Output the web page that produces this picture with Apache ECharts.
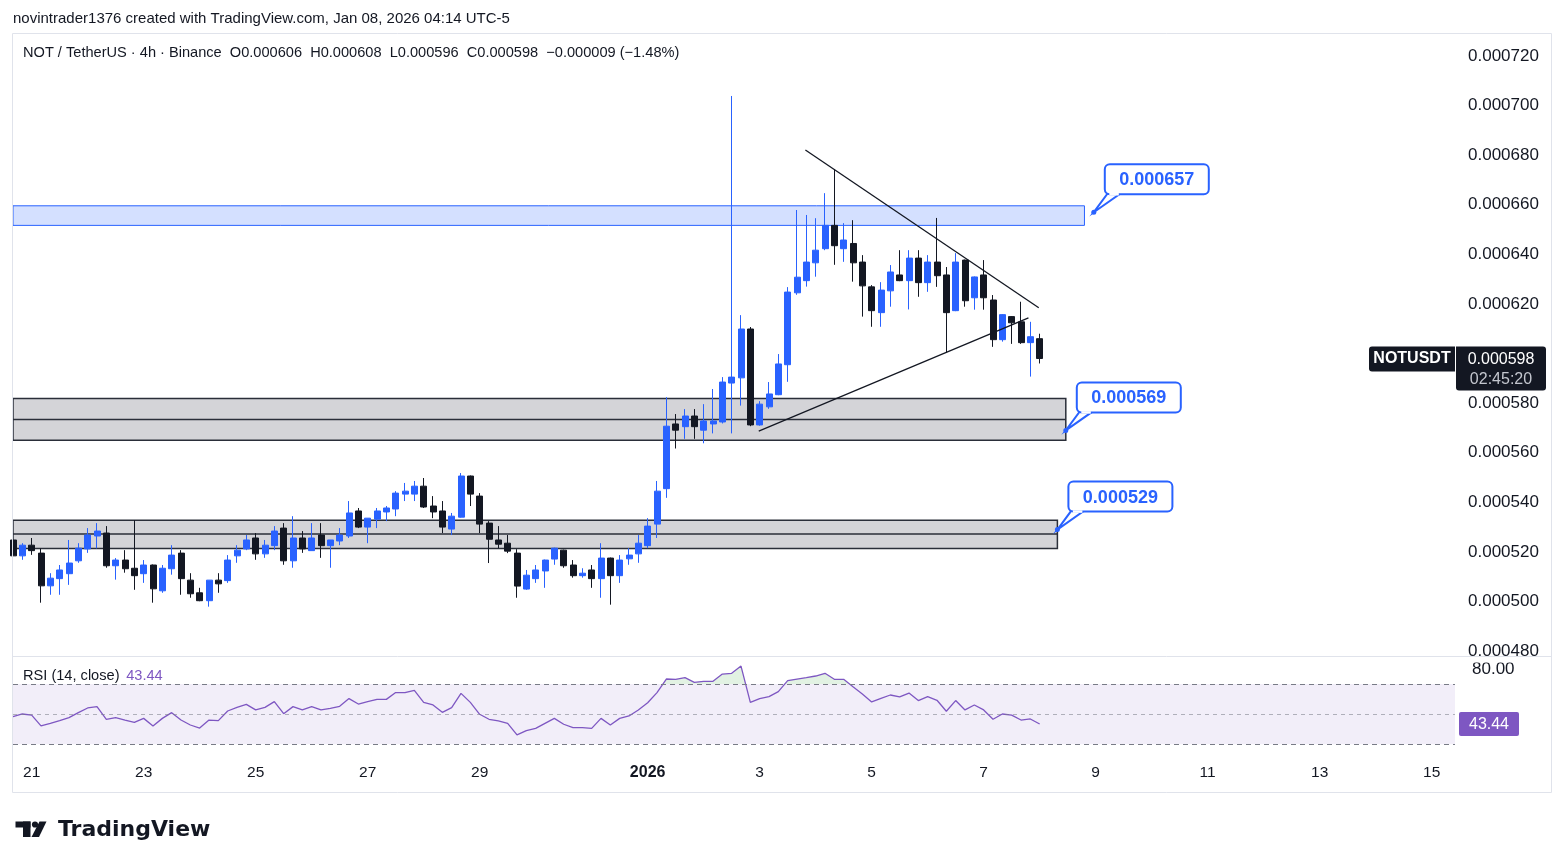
<!DOCTYPE html>
<html>
<head>
<meta charset="utf-8">
<script src="https://cdn.jsdelivr.net/npm/echarts@6/dist/echarts.min.js"></script>
<style>
html,body{margin:0;padding:0;background:#ffffff;}
#c{width:1564px;height:868px;}
</style>
</head>
<body>
<div id="c"></div>
<script>
// ---- data (4h candles, NOT/USDT, Dec 20 2025 -> Jan 8 2026) ----
const opens = [0.0005248,0.0005184,0.0005227,0.0005195,0.0005063,0.0005092,0.0005112,0.0005164,0.0005212,0.0005264,
0.0005276,0.0005144,0.0005167,0.0005134,0.0005112,0.0005147,0.0005043,0.0005132,0.0005195,0.0005086,
0.0005035,0.0005003,0.0005086,0.0005084,0.0005184,0.0005212,0.0005256,0.0005192,0.0005225,0.0005296,
0.0005164,0.0005256,0.0005205,0.0005268,0.0005225,0.0005244,0.0005264,0.0005365,0.0005300,0.0005332,
0.0005361,0.0005373,0.0005433,0.0005433,0.0005465,0.0005385,0.0005365,0.0005292,0.0005340,0.0005506,
0.0005425,0.0005316,0.0005248,0.0005235,0.0005195,0.0005050,0.0005092,0.0005123,0.0005171,0.0005207,
0.0005147,0.0005104,0.0005127,0.0005092,0.0005175,0.0005104,0.0005172,0.0005192,0.0005225,0.0005312,
0.0005455,0.0005716,0.0005705,0.0005748,0.0005691,0.0005716,0.0005724,0.0005881,0.0005902,0.0006099,
0.0005712,0.0005785,0.0005834,0.0005955,0.0006245,0.0006294,0.0006366,0.0006423,0.0006517,0.0006423,
0.0006444,0.0006369,0.0006269,0.0006165,0.0006253,0.0006317,0.0006294,0.0006385,0.0006286,0.0006369,
0.0006317,0.0006173,0.0006377,0.0006225,0.0006317,0.0006216,0.0006056,0.0006149,0.0006128,0.0006044,
0.0006060];
const highs = [0.0005252,0.0005235,0.0005256,0.0005214,0.0005114,0.0005147,0.0005248,0.0005235,0.0005296,0.0005316,
0.0005304,0.0005175,0.0005207,0.0005328,0.0005167,0.0005149,0.0005147,0.0005227,0.0005207,0.0005114,
0.0005055,0.0005086,0.0005114,0.0005187,0.0005227,0.0005268,0.0005276,0.0005248,0.0005304,0.0005316,
0.0005344,0.0005284,0.0005316,0.0005316,0.0005248,0.0005296,0.0005405,0.0005377,0.0005336,0.0005377,
0.0005385,0.0005445,0.0005478,0.0005486,0.0005498,0.0005425,0.0005405,0.0005357,0.0005518,0.0005508,
0.0005437,0.0005324,0.0005304,0.0005268,0.0005211,0.0005127,0.0005147,0.0005169,0.0005217,0.0005209,
0.0005167,0.0005134,0.0005147,0.0005235,0.0005177,0.0005187,0.0005215,0.0005268,0.0005336,0.0005486,
0.0005824,0.0005756,0.0005776,0.0005776,0.0005796,0.0005857,0.0005905,0.0007039,0.0006155,0.0006107,
0.0005808,0.0005885,0.0005998,0.0006268,0.0006579,0.0006559,0.0006546,0.0006647,0.0006744,0.0006526,
0.0006538,0.0006397,0.0006276,0.0006288,0.0006357,0.0006417,0.0006417,0.0006417,0.0006397,0.0006547,
0.0006349,0.0006405,0.0006379,0.0006311,0.0006377,0.0006236,0.0006159,0.0006151,0.0006209,0.0006128,
0.0006080];
const lows = [0.0005180,0.0005168,0.0005188,0.0004995,0.0005027,0.0005027,0.0005067,0.0005156,0.0005196,0.0005214,
0.0005136,0.0005088,0.0005116,0.0005047,0.0005075,0.0004995,0.0005035,0.0005108,0.0005027,0.0005015,
0.0005001,0.0004979,0.0005035,0.0005075,0.0005156,0.0005207,0.0005168,0.0005176,0.0005207,0.0005148,
0.0005136,0.0005196,0.0005205,0.0005176,0.0005136,0.0005227,0.0005256,0.0005296,0.0005235,0.0005296,
0.0005324,0.0005344,0.0005405,0.0005405,0.0005377,0.0005336,0.0005276,0.0005268,0.0005338,0.0005385,
0.0005276,0.0005155,0.0005215,0.0005195,0.0005015,0.0005047,0.0005075,0.0005055,0.0005148,0.0005136,
0.0005096,0.0005096,0.0005055,0.0005015,0.0004987,0.0005075,0.0005148,0.0005156,0.0005215,0.0005256,
0.0005418,0.0005617,0.0005656,0.0005656,0.0005638,0.0005678,0.0005718,0.0005678,0.0005790,0.0005707,
0.0005709,0.0005777,0.0005832,0.0005886,0.0006237,0.0006270,0.0006310,0.0006417,0.0006358,0.0006370,
0.0006290,0.0006149,0.0006108,0.0006108,0.0006189,0.0006292,0.0006178,0.0006229,0.0006249,0.0006269,
0.0006003,0.0006171,0.0006189,0.0006177,0.0006177,0.0006027,0.0006048,0.0006039,0.0006039,0.0005907,
0.0005960];
const closes = [0.0005184,0.0005227,0.0005205,0.0005063,0.0005094,0.0005127,0.0005155,0.0005215,0.0005268,0.0005284,
0.0005144,0.0005167,0.0005132,0.0005104,0.0005147,0.0005051,0.0005134,0.0005187,0.0005092,0.0005031,
0.0005003,0.0005086,0.0005071,0.0005167,0.0005207,0.0005248,0.0005192,0.0005227,0.0005284,0.0005164,
0.0005256,0.0005212,0.0005256,0.0005225,0.0005248,0.0005268,0.0005357,0.0005300,0.0005336,0.0005365,
0.0005377,0.0005437,0.0005445,0.0005465,0.0005381,0.0005361,0.0005300,0.0005344,0.0005506,0.0005433,
0.0005312,0.0005251,0.0005231,0.0005203,0.0005062,0.0005106,0.0005127,0.0005167,0.0005215,0.0005144,
0.0005104,0.0005114,0.0005092,0.0005175,0.0005104,0.0005167,0.0005187,0.0005235,0.0005304,0.0005445,
0.0005707,0.0005691,0.0005748,0.0005705,0.0005728,0.0005728,0.0005885,0.0005905,0.0006099,0.0005712,
0.0005796,0.0005837,0.0005958,0.0006248,0.0006308,0.0006369,0.0006417,0.0006517,0.0006435,0.0006458,
0.0006366,0.0006273,0.0006173,0.0006256,0.0006329,0.0006294,0.0006385,0.0006286,0.0006369,0.0006314,
0.0006165,0.0006369,0.0006213,0.0006309,0.0006225,0.0006056,0.0006157,0.0006124,0.0006044,0.0006068,
0.0005980];
const rsiValues = [48.3,50.1,49.4,42.2,43.9,45.7,47.7,51.0,54.1,55.0,
46.6,47.7,46.1,44.6,47.2,42.2,47.2,51.0,46.1,42.8,
40.8,46.1,45.7,52.1,54.5,56.5,52.8,54.5,58.3,50.3,
55.0,52.8,55.0,52.8,53.9,55.2,60.3,56.7,58.3,59.8,
59.8,64.3,64.3,65.8,57.8,56.1,51.2,54.3,63.8,57.8,
49.9,46.6,45.5,43.9,36.2,39.1,40.6,43.9,47.2,43.3,
41.0,41.0,40.6,47.2,42.8,47.2,48.8,52.8,57.6,64.3,
73.3,73.1,74.2,71.1,71.8,71.8,76.6,77.1,81.9,57.8,
60.3,61.6,64.9,72.2,73.3,74.2,75.3,77.1,73.1,73.1,
68.2,63.4,58.1,60.5,62.7,61.4,64.0,59.0,61.6,59.2,
51.9,59.0,52.8,56.1,52.8,46.6,50.1,49.4,46.1,46.8,
43.44];

// time axis: candle index (0 = Dec 20 16:00), labels at day starts
const dayTickIdx = [2,14,26,38,50,68,80,92,104,116,128,140,152];
const dayTickLabels = ['21','23','25','27','29','2026','3','5','7','9','11','13','15'];
const priceTickValues = [0.00072,0.0007,0.00068,0.00066,0.00064,0.00062,0.00058,0.00056,0.00054,0.00052,0.0005,0.00048];
const rsiTickValues = [80];
const rsiLevels = [70,50,30];

// drawings (candle index, price)
const zoneEnd = [114.8, 112.8, 111.9];
const zoneLow = [0.0006517, 0.0005650, 0.0005214];
const zoneHigh = [0.0006596, 0.0005819, 0.0005328];
const zoneMid = [null, 0.0005734, 0.0005272];
const calloutIdx = [115.8, 112.8, 111.9];
const calloutPrice = [0.000657, 0.000569, 0.000529];
const trendUpper = [[84.9, 0.0006821], [109.9, 0.0006185]];
const trendLower = [[79.9, 0.0005687], [108.8, 0.0006144]];

const FONT = '"Liberation Sans", Arial, sans-serif';
const INK = '#131722';
const BLUE = '#2962ff';
const PURPLE = '#7e57c2';
const X_MAX = 154.5;

const chart = echarts.init(document.getElementById('c'), null, {renderer: 'canvas'});

const candleData = opens.map((o, i) => [i, o, closes[i], lows[i], highs[i]]);
const rsiData = rsiValues.map((v, i) => [i, v]);
const zoneData = zoneEnd.map((e, i) => [-5, e, zoneLow[i], zoneHigh[i], zoneMid[i] == null ? NaN : zoneMid[i]]);
const calloutData = calloutIdx.map((x, i) => [x, calloutPrice[i]]);

function clipRect(r, cs) {
  return echarts.graphic.clipRectByRect(r, {x: cs.x, y: cs.y, width: cs.width, height: cs.height});
}

const option = {
  animation: false,
  backgroundColor: '#ffffff',
  textStyle: {fontFamily: FONT},
  grid: [
    {left: 13, right: 109, top: 34, height: 622, containLabel: false, outerBoundsMode: 'none'},
    {left: 13, right: 109, top: 656, height: 100, containLabel: false, outerBoundsMode: 'none'}
  ],
  xAxis: [
    {type: 'value', gridIndex: 0, min: 0, max: X_MAX, show: false, splitLine: {show: false}},
    {type: 'value', gridIndex: 1, min: 0, max: X_MAX,
      axisLine: {show: false}, axisTick: {show: false}, splitLine: {show: false},
      axisLabel: {
        customValues: dayTickIdx, margin: 9, color: INK, fontSize: 15.5, fontFamily: FONT,
        formatter: v => {
          const k = dayTickIdx.indexOf(v);
          if (k < 0) return '';
          const t = dayTickLabels[k];
          return t === '2026' ? '{b|' + t + '}' : t;
        },
        rich: {b: {fontWeight: 'bold', fontSize: 16, color: INK, fontFamily: FONT}}
      }
    }
  ],
  yAxis: [
    {type: 'value', gridIndex: 0, position: 'right', min: 0.000478, max: 0.0007289,
      axisLine: {show: false}, axisTick: {show: false}, splitLine: {show: false},
      axisLabel: {customValues: priceTickValues, align: 'left', margin: 13, color: INK, fontSize: 17, fontFamily: FONT,
        formatter: v => v.toFixed(6)}
    },
    {type: 'value', gridIndex: 1, position: 'right', min: 22.24, max: 88.57,
      axisLine: {show: false}, axisTick: {show: false}, splitLine: {show: false},
      axisLabel: {customValues: rsiTickValues, align: 'left', margin: 17, color: INK, fontSize: 17, fontFamily: FONT,
        formatter: v => v.toFixed(2)}
    }
  ],
  series: [
    {
      type: 'custom', name: 'zones', xAxisIndex: 0, yAxisIndex: 0, z: 1, silent: true,
      data: zoneData,
      renderItem: (params, api) => {
        const cs = params.coordSys;
        const s = api.value(0), e = api.value(1), lo = api.value(2), hi = api.value(3), mid = api.value(4);
        const p1 = api.coord([s, hi]), p2 = api.coord([e, lo]);
        const r = clipRect({x: p1[0], y: p1[1], width: p2[0] - p1[0], height: p2[1] - p1[1]}, cs);
        const isBlue = params.dataIndex === 0;
        const children = [{
          type: 'rect', shape: r,
          style: isBlue ? {fill: 'rgba(41,98,255,0.2)', stroke: BLUE, lineWidth: 1}
                        : {fill: '#d4d4d8', stroke: '#2a2e39', lineWidth: 1.5}
        }];
        if (!isNaN(mid)) {
          const pm = api.coord([e, mid]);
          children.push({type: 'line', shape: {x1: r.x, y1: pm[1], x2: r.x + r.width, y2: pm[1]},
            style: {stroke: '#2a2e39', lineWidth: 1.5}});
        }
        return {type: 'group', children};
      }
    },
    {
      type: 'candlestick', name: 'NOTUSDT', xAxisIndex: 0, yAxisIndex: 0, z: 3,
      data: candleData, encode: {x: 0, y: [1, 2, 3, 4]},
      barWidth: 6.5, clip: true,
      itemStyle: {color: BLUE, color0: INK, borderColor: BLUE, borderColor0: INK, borderWidth: 1},
      markLine: {
        silent: true, symbol: ['none', 'none'], label: {show: false},
        lineStyle: {color: INK, width: 1, type: [1, 2]},
        data: [{yAxis: closes[closes.length - 1]}]
      }
    },
    {type: 'line', name: 'trendUpper', xAxisIndex: 0, yAxisIndex: 0, z: 4, data: trendUpper,
      symbol: 'none', silent: true, lineStyle: {color: INK, width: 1.3}},
    {type: 'line', name: 'trendLower', xAxisIndex: 0, yAxisIndex: 0, z: 4, data: trendLower,
      symbol: 'none', silent: true, lineStyle: {color: INK, width: 1.3}},
    {
      type: 'custom', name: 'callouts', xAxisIndex: 0, yAxisIndex: 0, z: 6, silent: true,
      data: calloutData,
      renderItem: (params, api) => {
        const pt = api.coord([api.value(0), api.value(1)]);
        const x = pt[0], y = pt[1];
        const bw = 104, bh = 30, bx = x + 11, by = y - 18 - bh;
        return {type: 'group', children: [
          {type: 'polygon', shape: {points: [[x + 14, y - 19], [x + 27, y - 19], [x, y]]},
            style: {fill: '#ffffff', stroke: BLUE, lineWidth: 2}},
          {type: 'rect', shape: {x: bx, y: by, width: bw, height: bh, r: 5},
            style: {fill: '#ffffff', stroke: BLUE, lineWidth: 2}},
          {type: 'line', shape: {x1: x + 15.5, y1: by + bh, x2: x + 25, y2: by + bh},
            style: {stroke: '#ffffff', lineWidth: 2.5}},
          {type: 'text', style: {text: api.value(1).toFixed(6), x: bx + bw / 2, y: by + bh / 2 + 1,
            align: 'center', verticalAlign: 'middle', font: 'bold 18px ' + FONT, fill: BLUE}},
          {type: 'circle', shape: {cx: x, cy: y, r: 2.5}, style: {fill: BLUE}}
        ]};
      }
    },
    {
      type: 'custom', name: 'rsiOverbought', xAxisIndex: 1, yAxisIndex: 1, z: 2, silent: true,
      data: rsiData,
      renderItem: (params, api) => {
        const i = params.dataIndex;
        const a = rsiValues[i], b = rsiValues[i + 1];
        if (b === undefined || (a <= 70 && b <= 70)) return;
        let x0 = i, x1 = i + 1, y0 = a, y1 = b;
        if (a < 70) { x0 = i + (70 - a) / (b - a); y0 = 70; }
        if (b < 70) { x1 = i + (a - 70) / (a - b); y1 = 70; }
        return {type: 'polygon', shape: {points: [api.coord([x0, 70]), api.coord([x0, y0]), api.coord([x1, y1]), api.coord([x1, 70])]},
          style: {fill: 'rgba(76,175,80,0.16)'}};
      }
    },
    {
      type: 'line', name: 'RSI', xAxisIndex: 1, yAxisIndex: 1, z: 3, data: rsiData,
      symbol: 'none', silent: true, lineStyle: {color: PURPLE, width: 1.3},
      markArea: {silent: true, itemStyle: {color: 'rgba(126,87,194,0.1)'}, data: [[{yAxis: 70}, {yAxis: 30}]]},
      markLine: {
        silent: true, symbol: ['none', 'none'], label: {show: false},
        data: rsiLevels.map(v => ({yAxis: v, lineStyle: v === 50
          ? {color: 'rgba(120,123,134,0.55)', type: [4, 4], width: 1}
          : {color: '#787b86', type: [5, 4], width: 1}}))
      }
    }
  ]
};
chart.setOption(option);

// overlay texts, tags, frame
const lastClose = closes[closes.length - 1];
const lastRsi = rsiValues[rsiValues.length - 1];
const py = chart.convertToPixel({yAxisIndex: 0}, lastClose);
const ry = chart.convertToPixel({yAxisIndex: 1}, lastRsi);

chart.setOption({
  graphic: [
    {type: 'rect', z: 100, shape: {x: 1456, y: 656.5, width: 94, height: 6}, style: {fill: '#ffffff'}},
    {type: 'rect', z: 100, shape: {x: 12.5, y: 33.5, width: 1539, height: 759}, style: {fill: 'none', stroke: '#e0e3eb', lineWidth: 1}},
    {type: 'line', z: 100, shape: {x1: 13, y1: 656.5, x2: 1551, y2: 656.5}, style: {stroke: '#e0e3eb', lineWidth: 1}},
    {type: 'text', z: 100, x: 13, y: 19, style: {text: 'novintrader1376 created with TradingView.com, Jan 08, 2026 04:14 UTC-5',
      font: '15px ' + FONT, fill: INK, verticalAlign: 'middle'}},
    {type: 'text', z: 100, x: 23, y: 53, style: {
      text: 'NOT / TetherUS · 4h · Binance  O0.000606  H0.000608  L0.000596  C0.000598  \u22120.000009 (\u22121.48%)',
      font: '14.6px ' + FONT, fill: INK, verticalAlign: 'middle'}},
    {type: 'text', z: 100, x: 23, y: 676, style: {
      text: '{a|RSI (14, close)}  {b|' + lastRsi.toFixed(2) + '}',
      rich: {a: {fontSize: 14.6, fontFamily: FONT, fill: INK, color: INK}, b: {fontSize: 14.6, fontFamily: FONT, fill: PURPLE, color: PURPLE}},
      verticalAlign: 'middle'}},
    // symbol tag + price tag
    {type: 'rect', z: 100, shape: {x: 1369, y: py - 12, width: 86, height: 25, r: [3, 0, 0, 3]}, style: {fill: INK}},
    {type: 'text', z: 101, x: 1412, y: py + 0.5, style: {text: 'NOTUSDT', font: 'bold 16px ' + FONT, fill: '#ffffff', align: 'center', verticalAlign: 'middle'}},
    {type: 'rect', z: 100, shape: {x: 1456, y: py - 12, width: 90, height: 44, r: [0, 3, 3, 3]}, style: {fill: INK}},
    {type: 'text', z: 101, x: 1501, y: py + 1, style: {text: lastClose.toFixed(6), font: '16px ' + FONT, fill: '#ffffff', align: 'center', verticalAlign: 'middle'}},
    {type: 'text', z: 101, x: 1501, y: py + 21, style: {text: '02:45:20', font: '16px ' + FONT, fill: '#c3c6ce', align: 'center', verticalAlign: 'middle'}},
    // rsi tag
    {type: 'rect', z: 100, shape: {x: 1459, y: ry - 12, width: 60, height: 24, r: 2}, style: {fill: PURPLE}},
    {type: 'text', z: 101, x: 1489, y: ry + 0.5, style: {text: lastRsi.toFixed(2), font: '16px ' + FONT, fill: '#ffffff', align: 'center', verticalAlign: 'middle'}},
    // logo
    {type: 'group', z: 100, children: [
      {type: 'rect', shape: {x: 15.5, y: 821.5, width: 15, height: 6}, style: {fill: INK}},
      {type: 'rect', shape: {x: 23, y: 821.5, width: 7.5, height: 15.5}, style: {fill: INK}},
      {type: 'circle', shape: {cx: 35, cy: 824.5, r: 3.1}, style: {fill: INK}},
      {type: 'polygon', shape: {points: [[39.5, 821.5], [46.5, 821.5], [39, 837], [31.5, 837]]}, style: {fill: INK}},
      {type: 'text', x: 58, y: 830, style: {text: 'TradingView', font: 'bold 22px "DejaVu Sans", sans-serif', fill: INK, verticalAlign: 'middle'}}
    ]}
  ]
});
</script>
</body>
</html>
